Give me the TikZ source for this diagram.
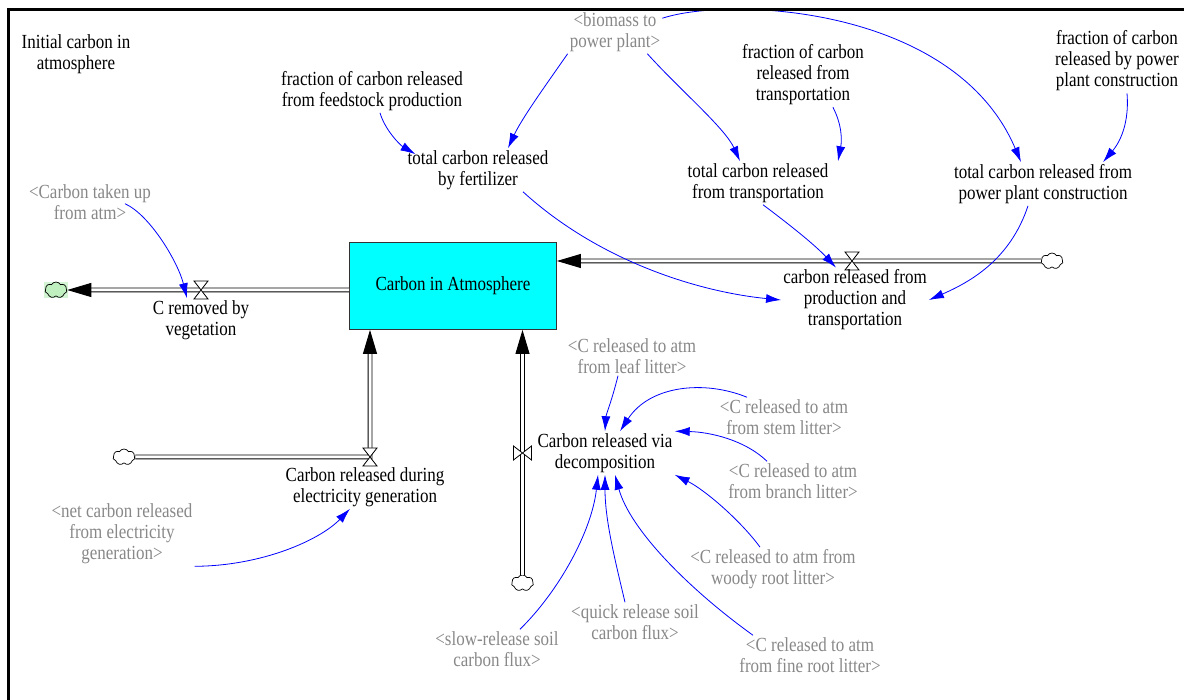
\documentclass[tikz,border=0pt]{standalone}
\usepackage{fontspec}
\setmainfont{Liberation Serif}[FakeStretch=0.85]
\usetikzlibrary{calc}
\usetikzlibrary{positioning}
\usetikzlibrary{arrows.meta}
\usetikzlibrary{shapes.symbols}

\definecolor{infoblue}{RGB}{0,0,255}
\definecolor{shadowgray}{RGB}{136,136,136}
\definecolor{stockcyan}{RGB}{0,255,255}
\definecolor{cloudgreen}{RGB}{192,240,192}

% valve across a horizontal pipe / across a vertical pipe
\newcommand{\hvalve}[1]{%
  \draw[valve] ($(#1)+(-7,9)$) -- ($(#1)+(7,9)$) -- ($(#1)+(-7,-9)$) -- ($(#1)+(7,-9)$) -- cycle;}
\newcommand{\vvalve}[1]{%
  \draw[valve] ($(#1)+(-9,7)$) -- ($(#1)+(-9,-7)$) -- ($(#1)+(9,7)$) -- ($(#1)+(9,-7)$) -- cycle;}

\begin{document}
\begin{tikzpicture}[x=1pt, y=1pt, font=\fontsize{20}{21}\selectfont,
        var/.style={align=center, inner sep=2pt},
        shadow/.style={var, text=shadowgray},
        stock/.style={draw=black!80, fill=stockcyan, line width=0.8pt, minimum width=207pt, minimum height=87pt},
        cloudsym/.style={cloud, cloud puffs=7, cloud puff arc=120, aspect=1.4, draw, fill=white, line width=0.7pt, inner sep=0pt, minimum width=22pt, minimum height=16pt},
        pipe/.style={draw=black, line width=0.9pt, double=white, double distance=3pt},
        flow/.style={pipe, -{Triangle[length=24pt,width=14pt]}},
        valve/.style={draw=black, fill=white, line width=0.8pt},
        info/.style={draw=infoblue, line width=0.8pt, -{Latex[length=15pt,width=9pt]}}]
        \useasboundingbox (0,0) rectangle (1184,-700);

        % stock
        \node[stock] (atm) at (453,-286) {Carbon in Atmosphere};

        % sources and sinks
        \fill[cloudgreen!70] (44,-282) rectangle (68,-298);
        \node[cloudsym, fill=cloudgreen] (cloudL) at (56,-290) {};
        \node[cloudsym] (cloudR) at (1052,-261) {};
        \node[cloudsym] (cloudE) at (124,-457) {};
        \node[cloudsym] (cloudD) at (522.5,-583) {};

        % valves
        \coordinate (vveg) at (201,-290);
        \coordinate (vprod) at (852,-261);
        \coordinate (velec) at (370,-457);
        \coordinate (vdec) at (522.5,-453);

        % flows
        \draw[flow] ([yshift=-4pt]atm.west) -- (cloudL);
        \draw[flow] (cloudR) -- ([yshift=25pt]atm.east);
        \draw[flow] (cloudE) -- (velec) -- (velec |- atm.south);
        \draw[flow] (cloudD) -- (vdec) -- (vdec |- atm.south);
        \hvalve{vveg}
        \hvalve{vprod}
        \hvalve{velec}
        \vvalve{vdec}

        % flow rates
        \node[var] (remveg) at (201,-320) {C removed by\\vegetation};
        \node[var] (prodtr) at (855,-300) {carbon released from\\production and\\transportation};
        \node[var] (elec) at (365,-487) {Carbon released during\\electricity generation};
        \node[var] (decomp) at (605,-453) {Carbon released via\\decomposition};

        % auxiliaries
        \node[var] (init) at (76,-54) {Initial carbon in\\atmosphere};
        \node[var] (ffeed) at (372,-91) {fraction of carbon released\\from feedstock production};
        \node[var] (ftrans) at (803,-75) {fraction of carbon\\released from\\transportation};
        \node[var] (fplant) at (1117,-61) {fraction of carbon\\released by power\\plant construction};
        \node[var] (tfert) at (478,-170) {total carbon released\\by fertilizer};
        \node[var] (ttrans) at (758,-183) {total carbon released\\from transportation};
        \node[var] (tplant) at (1043,-184) {total carbon released from\\power plant construction};

        % shadow variables
        \node[shadow] (biom) at (615,-32) {\textless biomass to\\power plant\textgreater};
        \node[shadow] (takeup) at (90,-202) {\textless Carbon taken up\\from atm\textgreater};
        \node[shadow] (netel) at (122,-534) {\textless net carbon released\\from electricity\\generation\textgreater};
        \node[shadow] (leaf) at (632,-356) {\textless C released to atm\\from leaf litter\textgreater};
        \node[shadow] (stem) at (784,-417) {\textless C released to atm\\from stem litter\textgreater};
        \node[shadow] (branch) at (793,-481) {\textless C released to atm\\from branch litter\textgreater};
        \node[shadow] (woody) at (773,-569) {\textless C released to atm from\\woody root litter\textgreater};
        \node[shadow] (quick) at (635,-622) {\textless quick release soil\\carbon flux\textgreater};
        \node[shadow] (slow) at (497,-649) {\textless slow-release soil\\carbon flux\textgreater};
        \node[shadow] (fine) at (810,-655) {\textless C released to atm\\from fine root litter\textgreater};

        % information links
        \draw[info] (biom.south west) .. controls (548,-82) and (522,-118) .. ([xshift=30pt]tfert.north);
        \draw[info] ([xshift=-15pt]biom.south east) .. controls (680,-90) and (725,-128) .. ([xshift=-18pt]ttrans.north);
        \draw[info] ([yshift=-8pt]biom.north east) .. controls (730,4) and (955,-6) .. ([xshift=-22pt]tplant.north);
        \draw[info] ([xshift=30pt]ftrans.south) .. controls (842,-125) and (842,-140) .. ([xshift=80pt]ttrans.north);
        \draw[info] ([xshift=10pt]fplant.south) .. controls (1130,-130) and (1115,-148) .. ([xshift=60pt]tplant.north);
        \draw[info] ([xshift=8pt]ffeed.south) .. controls (385,-130) and (400,-145) .. ([xshift=10pt,yshift=-6pt]tfert.north west);
        \draw[info] ([xshift=45pt]tfert.south) .. controls (600,-262) and (700,-292) .. (prodtr.west);
        \draw[info] ([xshift=5pt]ttrans.south) .. controls (790,-225) and (815,-245) .. ([xshift=-19pt]prodtr.north);
        \draw[info] ([xshift=-15pt]tplant.south) .. controls (1010,-260) and (970,-282) .. (prodtr.east);
        \draw[info] ([xshift=35pt,yshift=18pt]takeup.south) .. controls (150,-215) and (178,-262) .. ([xshift=-14pt]remveg.north);
        \draw[info] (netel.south east) .. controls (262,-566) and (320,-540) .. ([xshift=-15pt]elec.south);
        \draw[info] ([xshift=-14pt]leaf.south) .. controls (612,-400) and (606,-415) .. (decomp.north);
        \draw[info] ([xshift=-37pt]stem.north) .. controls (705,-380) and (650,-385) .. ([xshift=15pt]decomp.north);
        \draw[info] ([xshift=-26pt]branch.north) .. controls (745,-440) and (710,-432) .. (decomp.north east);
        \draw[info] ([xshift=-13pt]woody.north) .. controls (740,-520) and (705,-490) .. (decomp.south east);
        \draw[info] ([xshift=23pt]slow.north) .. controls (560,-590) and (592,-530) .. ([xshift=-7pt]decomp.south);
        \draw[info] ([xshift=-10pt]quick.north) .. controls (615,-560) and (605,-520) .. (decomp.south);
        \draw[info] ([xshift=-57pt]fine.north) .. controls (690,-590) and (630,-530) .. ([xshift=10pt]decomp.south);

        % frame
        \draw[line width=3pt] (8,-700) -- (8,-10) -- (1184,-10);
\end{tikzpicture}
\end{document}
